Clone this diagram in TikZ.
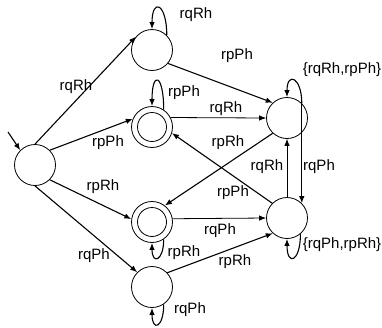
\documentclass[tikz,border=0pt]{standalone}
\usepackage{fontspec}
\setmainfont{Liberation Sans}
\usetikzlibrary{arrows.meta}
\begin{document}
\begin{tikzpicture}[x=1pt,y=-1pt,
  state/.style={circle,draw,line width=0.8pt,minimum size=41pt,inner sep=0pt},
  accept/.style={state,path picture={\draw[line width=0.8pt] (path picture bounding box.center) circle (14.5pt);}},
  edge/.style={line width=1.1pt,-{Latex[length=7pt,width=5.5pt]}},
  thinedge/.style={edge,line width=0.8pt},
  lab/.style={inner sep=0pt,font=\fontsize{15}{15}\selectfont}]
\useasboundingbox (0,0) rectangle (382,327);

% states
\node[state]  (S) at (35,165) {};
\node[state]  (A) at (152,50) {};
\node[accept] (B) at (152,127) {};
\node[accept] (C) at (152,222) {};
\node[state]  (D) at (152,287) {};
\node[state]  (E) at (287,118) {};
\node[state]  (F) at (287,218) {};

% initial arrow
\coordinate (s0) at (8,132);
\draw[edge] (s0) -- (S.135);

% transitions
\draw[edge] (S.north) -- (A.140);
\draw[edge] (S.45) -- (B.157);
\draw[edge] (S.-45) -- (C.172);
\draw[edge] (S.south) -- (D.135);
\draw[edge] (A.-40) -- (E.133);
\draw[thinedge] (B.27) -- (E.west);
\draw[thinedge] (C.9) -- (F.west);
\draw[edge] (D.43) -- (F.227);
\draw[edge] (E.227) -- (C.52);
\draw[edge] (F.135) -- (B.-17);
\draw[thinedge] (F.north) -- (E.south);
\draw[edge] (E.45) -- (F.45);

% self loops
\draw[edge] (A.45) .. controls +(0,-32) and +(0,-32) .. (A.north);
\draw[edge] (B.56) .. controls +(0,-36) and +(0,-36) .. (B.north);
\draw[edge] (C.-56) .. controls +(0,22) and +(0,22) .. (C.south);
\draw[edge] (D.-56) .. controls +(0,24) and +(0,24) .. (D.south);
\draw[edge] (E.45) .. controls +(0,-26) and +(0,-26) .. (E.north);
\draw[edge] (F.-50) .. controls +(0,28) and +(0,28) .. (F.south);

% labels
\node[lab] (lA)  at (196,15)  {rqRh};
\node[lab] (lB)  at (184,93)  {rpPh};
\node[lab] (lC)  at (184,253) {rpRh};
\node[lab] (lD)  at (190,310) {rqPh};
\node[lab] (lE)  at (342,70)  {\{rqRh,rpPh\}};
\node[lab] (lF)  at (342,245) {\{rqPh,rpRh\}};
\node[lab] (lSA) at (76,87)   {rqRh};
\node[lab] (lSB) at (108,143) {rpPh};
\node[lab] (lSC) at (103,187) {rpRh};
\node[lab] (lSD) at (94,256)  {rqPh};
\node[lab] (lAE) at (237,56)  {rpPh};
\node[lab] (lBE) at (226,109) {rqRh};
\node[lab] (lEC) at (228,143) {rpRh};
\node[lab] (lFB) at (233,193) {rpPh};
\node[lab] (lCF) at (220,231) {rqPh};
\node[lab] (lDF) at (235,262) {rpRh};
\node[lab] (lFE) at (267,167) {rqRh};
\node[lab] (lEF) at (319,167) {rqPh};
\end{tikzpicture}
\end{document}
